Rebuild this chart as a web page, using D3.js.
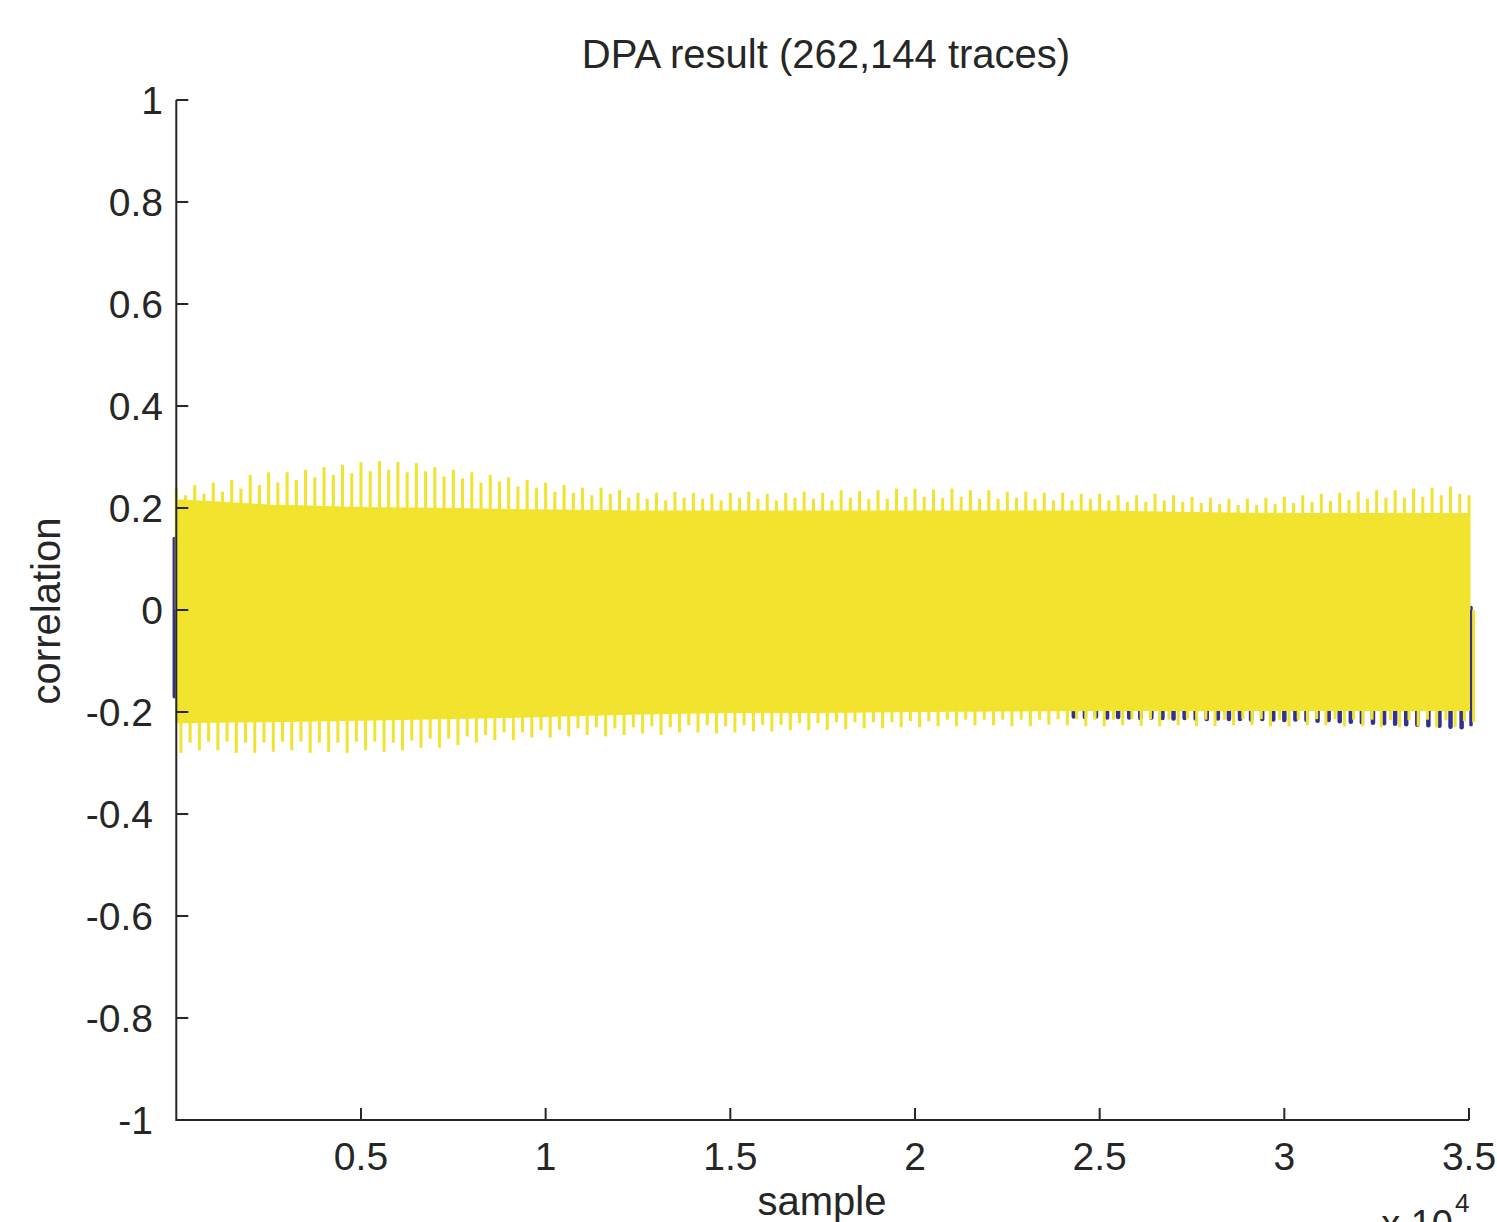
<!DOCTYPE html>
<html><head><meta charset="utf-8">
<script src="https://cdn.jsdelivr.net/npm/d3@7"></script>
<style>body{margin:0;background:#fff}text{font-family:"Liberation Sans",Arial,sans-serif;fill:#262626}</style>
</head><body><svg id="c" width="1497" height="1222"></svg>
<script>
const title = "DPA result (262,144 traces)";
const xTicks = [5000,10000,15000,20000,25000,30000,35000];
const xTickLabels = ["0.5","1","1.5","2","2.5","3","3.5"];
const yTicks = [1,0.8,0.6,0.4,0.2,0,-0.2,-0.4,-0.6,-0.8,-1];
const yTickLabels = ["1","0.8","0.6","0.4","0.2","0","-0.2","-0.4","-0.6","-0.8","-1"];
const spikeStep = 250; // samples between drawn spikes
const yellowTopPeaks = [
 0.24,0.225,0.245,0.228, 0.25,0.232,0.255,0.238, 0.265,0.245,0.27,0.25, 0.27,0.255,0.275,0.26,
 0.28,0.265,0.285,0.268, 0.29,0.272,0.292,0.275, 0.29,0.27,0.288,0.272, 0.28,0.262,0.275,0.258,
 0.27,0.25,0.265,0.252, 0.26,0.242,0.255,0.24, 0.25,0.232,0.245,0.23, 0.24,0.225,0.24,0.228,
 0.235,0.22,0.23,0.218, 0.23,0.215,0.232,0.22, 0.23,0.218,0.228,0.215, 0.23,0.22,0.232,0.218,
 0.228,0.215,0.23,0.22, 0.232,0.218,0.23,0.215, 0.235,0.22,0.233,0.218, 0.235,0.218,0.238,0.222,
 0.238,0.222,0.236,0.22, 0.238,0.222,0.235,0.218, 0.235,0.218,0.232,0.22, 0.232,0.218,0.23,0.215,
 0.23,0.215,0.228,0.218, 0.228,0.215,0.225,0.212, 0.225,0.212,0.228,0.215, 0.225,0.212,0.222,0.21,
 0.22,0.208,0.218,0.206, 0.218,0.206,0.22,0.208, 0.222,0.21,0.225,0.212, 0.228,0.214,0.23,0.216,
 0.232,0.218,0.235,0.22, 0.235,0.22,0.238,0.222, 0.24,0.225,0.242,0.228, 0.225];
const yellowBottomPeaks = [
 -0.28,-0.26,-0.275,-0.258, -0.275,-0.258,-0.28,-0.26, -0.28,-0.26,-0.278,-0.258, -0.275,-0.258,-0.28,-0.26,
 -0.278,-0.26,-0.28,-0.258, -0.275,-0.258,-0.278,-0.26, -0.275,-0.256,-0.27,-0.252, -0.27,-0.252,-0.265,-0.248,
 -0.26,-0.245,-0.255,-0.24, -0.255,-0.24,-0.25,-0.236, -0.25,-0.235,-0.248,-0.232, -0.245,-0.23,-0.248,-0.232,
 -0.245,-0.23,-0.242,-0.228, -0.245,-0.23,-0.24,-0.226, -0.24,-0.226,-0.242,-0.228, -0.24,-0.226,-0.238,-0.225,
 -0.238,-0.225,-0.236,-0.222, -0.236,-0.222,-0.235,-0.22, -0.234,-0.22,-0.232,-0.22, -0.232,-0.22,-0.23,-0.218,
 -0.23,-0.218,-0.228,-0.215, -0.228,-0.215,-0.226,-0.215, -0.226,-0.215,-0.228,-0.215, -0.228,-0.215,-0.225,-0.214,
 -0.226,-0.214,-0.228,-0.215, -0.228,-0.215,-0.226,-0.214, -0.227,-0.214,-0.228,-0.215, -0.226,-0.214,-0.228,-0.215,
 -0.228,-0.215,-0.226,-0.214, -0.226,-0.214,-0.228,-0.215, -0.228,-0.215,-0.226,-0.214, -0.226,-0.214,-0.228,-0.215,
 -0.228,-0.215,-0.23,-0.216, -0.23,-0.216,-0.228,-0.215, -0.23,-0.216,-0.23,-0.218, -0.22];
const bandSamples = [0,2500,5000,7500,10000,12500,15000,17500,20000,22500,25000,27500,30000,32500,35000];
const yellowBandTop = [0.215,0.205,0.2,0.198,0.195,0.193,0.193,0.193,0.193,0.193,0.193,0.19,0.188,0.188,0.188];
const yellowBandBottom = [-0.22,-0.218,-0.215,-0.212,-0.208,-0.203,-0.2,-0.2,-0.198,-0.197,-0.196,-0.196,-0.196,-0.196,-0.196];
const blueDipStart = 24300, blueDipStep = 300;
const blueDips = [-0.205,-0.206,-0.205,-0.207,-0.206,-0.207,-0.208,-0.207,-0.208,-0.209,
 -0.208,-0.209,-0.21,-0.209,-0.21,-0.21,-0.211,-0.21,-0.211,
 -0.212,-0.211,-0.212,-0.213,-0.212,-0.214,-0.215,-0.216,
 -0.217,-0.218,-0.219,-0.22,-0.221,-0.222,-0.223,-0.225,-0.226];
const blueEdgeSamples = [0,35000];
const blueEdgeHigh = [0.14,0.005];
const blueEdgeLow = [-0.17,-0.225];

const svg = d3.select("#c");
const L=176.3, R=1469, T=100, B=1120;
const x = d3.scaleLinear().domain([0,35000]).range([L,R]);
const y = d3.scaleLinear().domain([-1,1]).range([B,T]);
const YEL="#f1e32e", BLU="#33318f";

const g = svg.append("g");
// blue series (behind)
g.selectAll(".bdip").data(blueDips).join("line")
 .attr("x1",(d,i)=>x(blueDipStart+i*blueDipStep)).attr("x2",(d,i)=>x(blueDipStart+i*blueDipStep))
 .attr("y1",y(-0.19)).attr("y2",d=>y(d)+2)
 .attr("stroke",BLU).attr("stroke-width",4.5).attr("stroke-linecap","round");
g.selectAll(".bedge").data(blueEdgeSamples).join("line")
 .attr("x1",(d,i)=>x(d)+(i?2:-2)).attr("x2",(d,i)=>x(d)+(i?2:-2))
 .attr("y1",(d,i)=>y(blueEdgeHigh[i])).attr("y2",(d,i)=>y(blueEdgeLow[i]))
 .attr("stroke",BLU).attr("stroke-width",3.5).attr("stroke-linecap","round");

// yellow band
const band = bandSamples.map((s,i)=>({s,t:yellowBandTop[i],b:yellowBandBottom[i]}));
g.append("path").datum(band)
 .attr("d",d3.area().x(d=>x(d.s)).y0(d=>y(d.b)).y1(d=>y(d.t)))
 .attr("fill",YEL).attr("stroke",YEL).attr("stroke-width",2);
g.selectAll(".ts").data(yellowTopPeaks).join("line")
 .attr("x1",(d,i)=>x(i*spikeStep)).attr("x2",(d,i)=>x(i*spikeStep))
 .attr("y1",y(0)).attr("y2",d=>y(d))
 .attr("stroke",YEL).attr("stroke-width",3);
g.selectAll(".bs").data(yellowBottomPeaks).join("line")
 .attr("x1",(d,i)=>x(i*spikeStep+125)).attr("x2",(d,i)=>x(i*spikeStep+125))
 .attr("y1",y(0)).attr("y2",d=>y(d))
 .attr("stroke",YEL).attr("stroke-width",3);

// axes
const ax = svg.append("g").attr("stroke","#262626").attr("stroke-width",2).attr("fill","none");
ax.append("path").attr("d",`M${L},${T}V${B}H${R}`);
ax.selectAll(".yt").data(yTicks).join("line")
 .attr("x1",L).attr("x2",L+12).attr("y1",d=>y(d)).attr("y2",d=>y(d));
ax.selectAll(".xt").data(xTicks).join("line")
 .attr("x1",d=>x(d)).attr("x2",d=>x(d)).attr("y1",B).attr("y2",B-12);
svg.selectAll(".yl").data(yTicks).join("text")
 .attr("x",d=>d<0?153:163).attr("y",d=>y(d)+14).attr("text-anchor","end").attr("font-size",39)
 .text((d,i)=>yTickLabels[i]);
svg.selectAll(".xl").data(xTicks).join("text")
 .attr("x",d=>x(d)).attr("y",1170).attr("text-anchor","middle").attr("font-size",39)
 .text((d,i)=>xTickLabels[i]);
svg.append("text").attr("x",826).attr("y",68).attr("text-anchor","middle").attr("font-size",40).text(title);
svg.append("text").attr("x",822).attr("y",1215).attr("text-anchor","middle").attr("font-size",40).text("sample");
svg.append("text").attr("transform","translate(60,611) rotate(-90)").attr("text-anchor","middle").attr("font-size",40).text("correlation");
svg.append("text").attr("x",1453).attr("y",1237).attr("text-anchor","end").attr("font-size",38).text("x 10");
svg.append("text").attr("x",1455).attr("y",1212).attr("font-size",26).text("4");
</script></body></html>
